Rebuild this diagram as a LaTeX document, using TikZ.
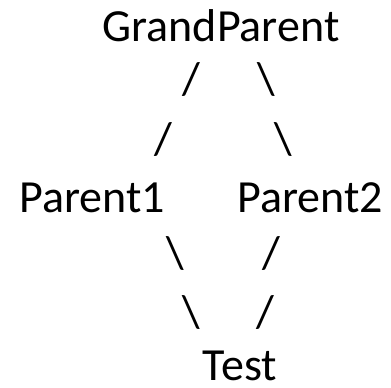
\documentclass[tikz,border=0pt]{standalone}
\usepackage{fontspec}
\setmainfont{Carlito}

\tikzset{
  word/.style={inner sep=0pt, anchor=base},
  bar/.style={inner sep=0pt, anchor=center}
}

\begin{document}
\begin{tikzpicture}[x=1pt, y=-1pt, font=\fontsize{46}{56}\selectfont]
    \useasboundingbox (0,0) rectangle (391,388);
    \node[word] (GP) at (221,41) {GrandParent};
    \node[bar] (GL1) at (191,80) {/};
    \node[bar] (GR1) at (266,80) {\textbackslash};
    \node[bar] (GL2) at (163,140) {/};
    \node[bar] (GR2) at (283,140) {\textbackslash};
    \node[word] (P1) at (92,212) {Parent1};
    \node[word] (P2) at (310,212) {Parent2};
    \node[bar] (TL1) at (175,254) {\textbackslash};
    \node[bar] (TR1) at (271,254) {/};
    \node[bar] (TL2) at (191,313) {\textbackslash};
    \node[bar] (TR2) at (265,313) {/};
    \node[word] (T) at (240,380) {Test};
  \end{tikzpicture}
\end{document}
